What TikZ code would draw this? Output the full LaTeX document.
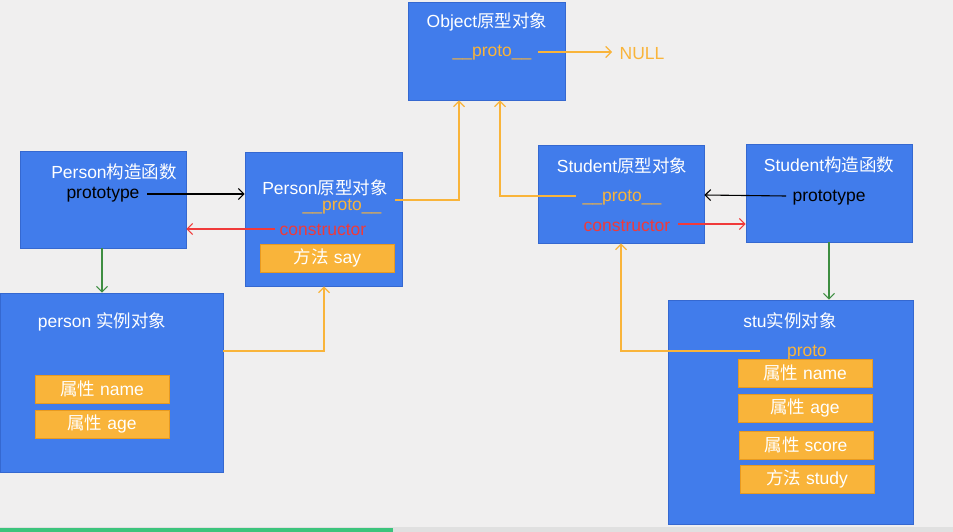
\documentclass[tikz,border=0pt]{standalone}
\usepackage{fontspec}
\setmainfont{Liberation Sans}
\newfontfamily\cjk{Noto Sans CJK SC}
\newcommand{\zh}[1]{{\cjk #1}}
\usetikzlibrary{arrows.meta}
\definecolor{bg}{HTML}{F0EFEF}
\definecolor{boxblue}{HTML}{417CEB}
\definecolor{boxedge}{HTML}{3568D0}
\definecolor{org}{HTML}{F9B43A}
\definecolor{orgedge}{HTML}{E89A20}
\definecolor{grn}{HTML}{3E8E41}
\definecolor{rd}{HTML}{F03A3A}
\definecolor{barg}{HTML}{3CC47C}
\begin{document}
\begin{tikzpicture}[x=1pt,y=-1pt,
  bluebox/.style={draw=boxedge, fill=boxblue, line width=0.8pt, inner sep=0pt},
  orgbox/.style={draw=orgedge, fill=org, line width=0.8pt, inner sep=0pt, minimum width=134pt, minimum height=28pt, text=white, font=\fontsize{17.5}{19}\selectfont},
  title/.style={text=white, inner sep=0.5pt, yshift=-1.5pt, font=\fontsize{17.5}{19}\selectfont},
  lbl/.style={inner sep=0.5pt, yshift=-1.5pt, font=\fontsize{17.5}{19}\selectfont},
  tip/.style={-{Straight Barb[length=5.5pt,width=11pt]}},
  oline/.style={draw=org, line width=1.2pt},
]
\fill[bg] (0,0) rectangle (953,532);
\useasboundingbox (0,0) rectangle (953,532);
\fill[black!12] (0,527) rectangle (953,532);
\fill[barg] (0,528) rectangle (393,532);

% boxes
\node[bluebox, minimum width=157pt, minimum height=98pt] (obj) at (486.5,51) {};
\node[bluebox, minimum width=166pt, minimum height=97pt] (pc) at (103,199.5) {};
\node[bluebox, minimum width=157pt, minimum height=134pt] (pp) at (323.5,219) {};
\node[bluebox, minimum width=166pt, minimum height=98pt] (sp) at (621,194) {};
\node[bluebox, minimum width=166pt, minimum height=98pt] (sc) at (829,193) {};
\node[bluebox, minimum width=223pt, minimum height=179pt] (pi) at (111.5,382.5) {};
\node[bluebox, minimum width=245pt, minimum height=224pt] (si) at (790.5,412) {};

% titles
\node[title] (objt) at (487,20) {Object\zh{原型对象}};
\node[title] (pct) at (114,170) {Person\zh{构造函数}};
\node[title] (ppt) at (325,186) {Person\zh{原型对象}};
\node[title] (spt) at (622,164) {Student\zh{原型对象}};
\node[title] (sct) at (829,163) {Student\zh{构造函数}};
\node[title] (pit) at (102,320) {person \zh{实例对象}};
\node[title] (sit) at (790,319) {stu\zh{实例对象}};

% labels
\node[lbl, text=org] (objp) at (492,51) {\_\_proto\_\_};
\node[lbl, text=org] (null) at (642,52) {NULL};
\node[lbl, text=black] (pcp) at (103,193) {prototype};
\node[lbl, text=org] (ppp) at (342,205) {\_\_proto\_\_};
\node[lbl, text=rd] (ppc) at (323,228) {constructor};
\node[lbl, text=org] (spp) at (622,196) {\_\_proto\_\_};
\node[lbl, text=rd] (spc) at (627,224) {constructor};
\node[lbl, text=black] (scp) at (829,196) {prototype};
\node[lbl, text=org] (sip) at (807,351) {proto};

% orange boxes
\node[orgbox] (say) at (327.5,258) {\zh{方法} say};
\node[orgbox] (pn) at (102,389) {\zh{属性} name};
\node[orgbox] (pa) at (102,424) {\zh{属性} age};
\node[orgbox] (sn) at (805,373) {\zh{属性} name};
\node[orgbox] (sa) at (805,408) {\zh{属性} age};
\node[orgbox] (ss) at (806,445) {\zh{属性} score};
\node[orgbox] (sst) at (807,479) {\zh{方法} study};

% connectors
\coordinate (objpe) at (538,52);
\coordinate (nullw) at (612,52);
\draw[oline, tip] (objpe) -- (nullw);
\coordinate (pcpe) at (147,194);
\draw[black, line width=1.1pt, tip] (pcpe) -- (pp.west |- pcpe);
\coordinate (ppcw) at (275,229);
\draw[rd, line width=1.1pt, tip] (ppcw) -- (pc.east |- ppcw);
\coordinate (pppe) at (395,200);
\draw[oline, tip] (pppe) -- (459,200) -- (obj.south -| 459,0);
\coordinate (sppw) at (576,196);
\draw[oline, tip] (sppw) -- (500,196) -- (obj.south -| 500,0);
\coordinate (scpw) at (786,196);
\draw[black, line width=1.1pt, tip] (scpw) -- (sp.east |- 0,195);
\coordinate (spce) at (678,224);
\draw[rd, line width=1.1pt, tip] (spce) -- (sc.west |- spce);
\draw[grn, line width=1.1pt, tip] (pc.south -| 102,0) -- (pi.north -| 102,0);
\draw[grn, line width=1.1pt, tip] (sc.south -| 829,0) -- (si.north -| 829,0);
\draw[oline, tip] (pi.east |- 0,351) -- (324,351) -- (pp.south -| 324,0);
\coordinate (sipw) at (760,351);
\draw[oline, tip] (sipw) -- (621,351) -- (sp.south -| 621,0);
\end{tikzpicture}
\end{document}
